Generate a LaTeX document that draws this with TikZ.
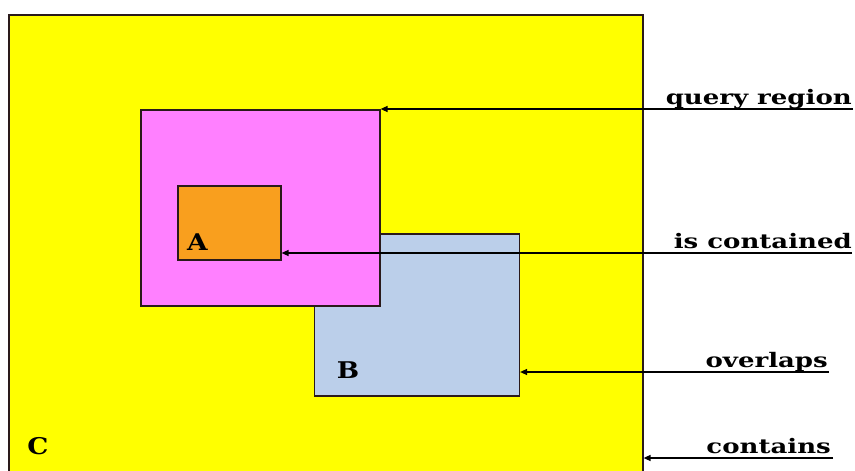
\documentclass[tikz,border=0pt]{standalone}
\usepackage{fontspec}
\setmainfont{DejaVu Serif}
\usetikzlibrary{arrows.meta}
\definecolor{cyel}{HTML}{FFFF00}
\definecolor{cpink}{HTML}{FF80FF}
\definecolor{corange}{HTML}{F99F1E}
\definecolor{cblue}{HTML}{BBCFEA}
\definecolor{cedge}{HTML}{2A1A1A}
\newcommand{\widetext}[1]{\scalebox{1.3}[1]{#1}}
\newcommand{\wideletter}[1]{\scalebox{1.15}[1]{#1}}
\tikzset{
  region/.style={draw=cedge, line width=1.6pt, inner sep=0pt, anchor=north west},
  lbl/.style={font=\bfseries\fontsize{20}{20}\selectfont, inner sep=0pt, anchor=base east},
  letter/.style={font=\bfseries\fontsize{23}{23}\selectfont, inner sep=0pt},
  pointer/.style={draw=black, line width=1.3pt, -{Triangle[length=7pt,width=6pt]}}
}
\begin{document}
\begin{tikzpicture}[x=1pt,y=-1pt]
\useasboundingbox (0,0) rectangle (855,471);
\fill[white] (0,0) rectangle (855,471);
\begin{scope}
\clip (0,0) rectangle (855,471);
\node[region, fill=cyel, minimum width=634pt, minimum height=480pt] (yel) at (8,14) {};
\end{scope}
\node[region, fill=cblue, minimum width=205pt, minimum height=162pt] (blu) at (313.5,233) {};
\node[region, fill=cpink, minimum width=239pt, minimum height=196pt] (pnk) at (140,109) {};
\node[region, fill=corange, minimum width=103pt, minimum height=74pt] (org) at (177,185) {};
\node[letter] (la) at (197.5,242.5) {\wideletter{A}};
\node[letter] (lb) at (348,370) {\wideletter{B}};
\node[letter] (lc) at (38,446) {\wideletter{C}};
\coordinate (e1) at (853,109);
\coordinate (e2) at (852,253);
\coordinate (e3) at (829,372);
\coordinate (e4) at (833,458);
\node[lbl] (t1) at (852,104) {\widetext{query region}};
\node[lbl] (t2) at (852,248) {\widetext{is contained}};
\node[lbl] (t3) at (828,367) {\widetext{overlaps}};
\node[lbl] (t4) at (831,453) {\widetext{contains}};
\draw[pointer] (e1) -- (pnk.north east);
\draw[pointer] (e2) -- (e2 -| org.east);
\draw[pointer] (e3) -- (e3 -| blu.east);
\draw[pointer] (e4) -- (e4 -| yel.east);
\end{tikzpicture}
\end{document}
